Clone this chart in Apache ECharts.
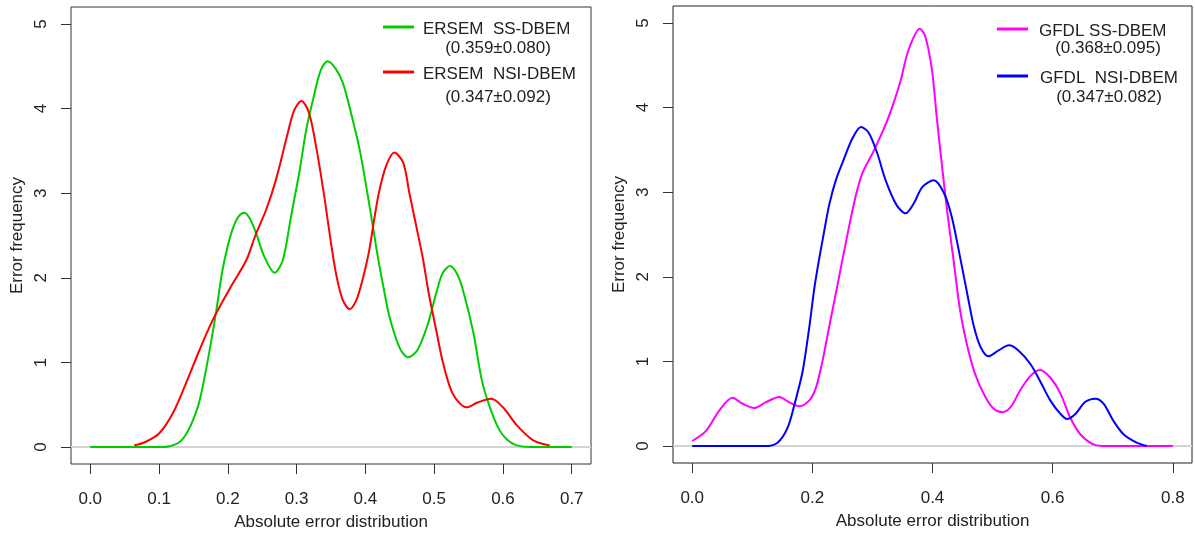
<!DOCTYPE html>
<html>
<head>
<meta charset="utf-8">
<script src="https://cdn.jsdelivr.net/npm/echarts@6/dist/echarts.min.js"></script>
<style>
html,body{margin:0;padding:0;background:#fff;}
#chart{width:1195px;height:533px;}
</style>
</head>
<body>
<div id="chart"></div>
<script>
// ---- data ----
const leftXTicks = [0, 0.1, 0.2, 0.3, 0.4, 0.5, 0.6, 0.7];
const rightXTicks = [0, 0.2, 0.4, 0.6, 0.8];
const yTicks = [0, 1, 2, 3, 4, 5];

const seriesNames = ['ERSEM  SS-DBEM', 'ERSEM  NSI-DBEM', 'GFDL SS-DBEM', 'GFDL  NSI-DBEM'];
const seriesStats = ['(0.359±0.080)', '(0.347±0.092)', '(0.368±0.095)', '(0.347±0.082)'];
const seriesColors = ['#00CD00', '#FF0000', '#FF00FF', '#0000FF'];

const ersemSS = [[0,0],[0.10,0],[0.115,0.01],[0.13,0.06],[0.14,0.16],[0.15,0.33],[0.159,0.55],[0.171,1.03],[0.183,1.6],[0.192,2.08],[0.2,2.38],[0.208,2.6],[0.216,2.73],[0.224,2.77],[0.232,2.7],[0.241,2.53],[0.253,2.25],[0.268,2.06],[0.28,2.21],[0.292,2.73],[0.304,3.25],[0.314,3.75],[0.324,4.11],[0.335,4.45],[0.345,4.56],[0.356,4.48],[0.367,4.31],[0.379,3.95],[0.392,3.5],[0.406,2.85],[0.418,2.25],[0.426,1.9],[0.435,1.54],[0.45,1.17],[0.462,1.06],[0.476,1.15],[0.491,1.46],[0.503,1.82],[0.512,2.05],[0.523,2.14],[0.533,2.05],[0.542,1.85],[0.557,1.35],[0.569,0.8],[0.581,0.47],[0.595,0.2],[0.607,0.08],[0.62,0.02],[0.64,0],[0.7,0]];
const ersemNSI = [[0.064,0.02],[0.08,0.06],[0.1,0.16],[0.12,0.4],[0.139,0.75],[0.159,1.15],[0.178,1.5],[0.202,1.86],[0.227,2.21],[0.24,2.5],[0.256,2.81],[0.27,3.16],[0.285,3.64],[0.296,3.97],[0.307,4.09],[0.318,3.95],[0.329,3.52],[0.341,2.92],[0.35,2.41],[0.358,2.02],[0.367,1.74],[0.377,1.63],[0.387,1.74],[0.396,1.98],[0.405,2.3],[0.413,2.7],[0.42,3.02],[0.43,3.32],[0.442,3.48],[0.455,3.36],[0.464,3.0],[0.474,2.61],[0.484,2.21],[0.492,1.82],[0.503,1.38],[0.513,0.99],[0.527,0.63],[0.547,0.47],[0.564,0.53],[0.583,0.57],[0.6,0.47],[0.62,0.26],[0.644,0.08],[0.668,0.02]];
const gfdlSS = [[0,0.06],[0.023,0.18],[0.045,0.42],[0.067,0.57],[0.084,0.5],[0.103,0.45],[0.123,0.52],[0.145,0.58],[0.161,0.52],[0.178,0.47],[0.195,0.54],[0.206,0.69],[0.217,1.01],[0.228,1.41],[0.239,1.8],[0.25,2.2],[0.261,2.59],[0.272,2.95],[0.283,3.22],[0.303,3.5],[0.322,3.8],[0.335,4.05],[0.347,4.32],[0.36,4.68],[0.379,4.93],[0.388,4.84],[0.399,4.45],[0.407,3.89],[0.416,3.3],[0.424,2.8],[0.435,2.2],[0.446,1.6],[0.457,1.21],[0.471,0.85],[0.488,0.58],[0.502,0.44],[0.516,0.4],[0.53,0.46],[0.546,0.66],[0.563,0.83],[0.579,0.9],[0.596,0.81],[0.613,0.62],[0.629,0.34],[0.646,0.14],[0.668,0.02],[0.69,0],[0.8,0]];
const gfdlNSI = [[0,0],[0.12,0],[0.142,0.04],[0.159,0.22],[0.172,0.54],[0.184,0.89],[0.195,1.41],[0.203,1.85],[0.211,2.2],[0.22,2.55],[0.228,2.85],[0.239,3.14],[0.253,3.4],[0.267,3.64],[0.281,3.77],[0.294,3.7],[0.308,3.46],[0.322,3.14],[0.34,2.85],[0.355,2.75],[0.369,2.87],[0.383,3.06],[0.402,3.14],[0.419,2.99],[0.432,2.71],[0.446,2.23],[0.46,1.72],[0.469,1.41],[0.48,1.17],[0.493,1.06],[0.51,1.13],[0.527,1.19],[0.543,1.13],[0.563,0.97],[0.579,0.77],[0.596,0.54],[0.613,0.38],[0.624,0.32],[0.638,0.38],[0.654,0.52],[0.671,0.56],[0.685,0.5],[0.701,0.3],[0.718,0.14],[0.74,0.04],[0.757,0]];

const xTitle = 'Absolute error distribution';
const yTitle = 'Error frequency';

// ---- chart ----
const FONT = '"Liberation Sans", Arial, sans-serif';
const TXT = '#222';
const FS = 17;
const chart = echarts.init(document.getElementById('chart'), null, {renderer: 'canvas'});

function xAxisCfg(gi, min, max, ticks) {
  return {
    type: 'value', gridIndex: gi, min: min, max: max, position: 'bottom',
    axisLine: {show: false, onZero: false},
    splitLine: {show: false},
    axisTick: {show: true, inside: false, length: 10, lineStyle: {color: '#333', width: 1}, customValues: ticks},
    axisLabel: {show: true, margin: 27, color: TXT, fontSize: FS, fontFamily: FONT,
      customValues: ticks, formatter: v => v.toFixed(1)},
    name: xTitle, nameLocation: 'middle', nameGap: 50,
    nameTextStyle: {color: TXT, fontSize: FS, fontFamily: FONT}
  };
}
function yAxisCfg(gi) {
  return {
    type: 'value', gridIndex: gi, min: -0.2, max: 5.2, position: 'left',
    axisLine: {show: false, onZero: false},
    splitLine: {show: false},
    axisTick: {show: true, inside: false, length: 10, lineStyle: {color: '#333', width: 1}, customValues: yTicks},
    axisLabel: {show: true, rotate: 90, margin: 21, color: TXT, fontSize: FS, fontFamily: FONT,
      customValues: yTicks, formatter: v => String(v)},
    name: yTitle, nameLocation: 'middle', nameGap: 45, nameRotate: 90,
    nameTextStyle: {color: TXT, fontSize: FS, fontFamily: FONT}
  };
}
function lineSeries(name, data, color, gi) {
  return {
    type: 'line', name: name, xAxisIndex: gi, yAxisIndex: gi, data: data,
    smooth: 0.3, showSymbol: false, symbol: 'none', z: 6,
    lineStyle: {color: color, width: 2}, itemStyle: {color: color},
    animation: false
  };
}
function zeroLine(gi) {
  return {
    type: 'line', xAxisIndex: gi, yAxisIndex: gi, data: [], z: 1, silent: true,
    markLine: {silent: true, z: 1, symbol: ['none', 'none'], label: {show: false},
      lineStyle: {color: '#D3D3D3', width: 2, type: 'solid'},
      data: [{yAxis: 0}], animation: false}
  };
}

// legend built as graphic elements
const legendPos = [
  {lx: 383, tx: 423, cx: 498, y1: 27, y2: 48},
  {lx: 383, tx: 423, cx: 498, y1: 72, y2: 97},
  {lx: 997, tx: 1039, cx: 1108, y1: 29, y2: 48},
  {lx: 997, tx: 1040, cx: 1109, y1: 76, y2: 97}
];
const graphics = [];
seriesNames.forEach((n, i) => {
  const p = legendPos[i];
  graphics.push({type: 'line', shape: {x1: p.lx, y1: p.y1, x2: p.lx + 31, y2: p.y1},
    style: {stroke: seriesColors[i], lineWidth: 3}});
  graphics.push({type: 'text', x: p.tx, y: p.y1 + 2,
    style: {text: n, fill: TXT, font: FS + 'px ' + FONT, textAlign: 'left', textVerticalAlign: 'middle'}});
  graphics.push({type: 'text', x: p.cx, y: p.y2,
    style: {text: seriesStats[i], fill: TXT, font: FS + 'px ' + FONT, textAlign: 'center', textVerticalAlign: 'middle'}});
});

const option = {
  backgroundColor: '#fff',
  animation: false,
  grid: [
    {left: 71, top: 7, width: 520, height: 457, show: true, borderColor: '#333', borderWidth: 1, backgroundColor: 'transparent', outerBoundsMode: 'none', containLabel: false},
    {left: 673, top: 6, width: 519, height: 457, show: true, borderColor: '#222', borderWidth: 1, backgroundColor: 'transparent', outerBoundsMode: 'none', containLabel: false}
  ],
  xAxis: [xAxisCfg(0, -0.028, 0.728, leftXTicks), xAxisCfg(1, -0.032, 0.832, rightXTicks)],
  yAxis: [yAxisCfg(0), yAxisCfg(1)],
  series: [
    zeroLine(0), zeroLine(1),
    lineSeries(seriesNames[0], ersemSS, seriesColors[0], 0),
    lineSeries(seriesNames[1], ersemNSI, seriesColors[1], 0),
    lineSeries(seriesNames[2], gfdlSS, seriesColors[2], 1),
    lineSeries(seriesNames[3], gfdlNSI, seriesColors[3], 1)
  ],
  graphic: graphics
};
chart.setOption(option);
</script>
</body>
</html>
